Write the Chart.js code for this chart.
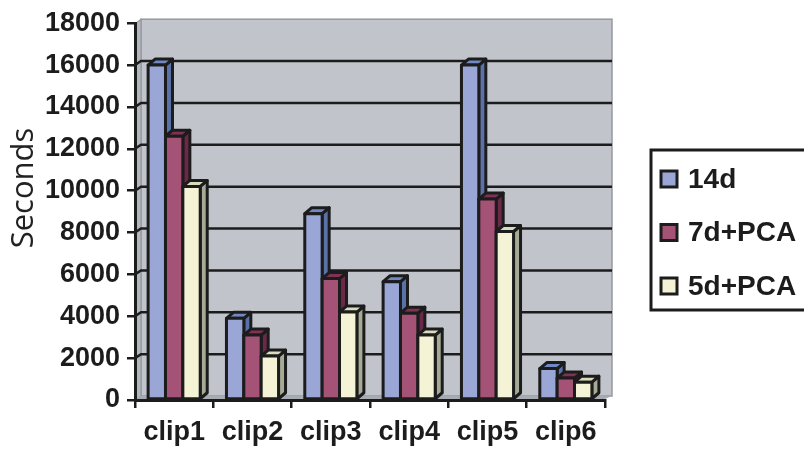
<!DOCTYPE html>
<html>
<head>
<meta charset="utf-8">
<title>Seconds per clip</title>
<script src="https://cdn.jsdelivr.net/npm/chart.js@4.4.1/dist/chart.umd.min.js"></script>
<style>
  html, body { margin: 0; padding: 0; background: #ffffff; }
  #wrap { width: 804px; height: 453px; }
</style>
</head>
<body>
<div id="wrap"><canvas id="c" width="804" height="453"></canvas></div>
<script>
// ---- data ----
const categories = ['clip1', 'clip2', 'clip3', 'clip4', 'clip5', 'clip6'];
const seriesNames = ['14d', '7d+PCA', '5d+PCA'];
const values14d = [16000, 3900, 8900, 5650, 16000, 1500];
const values7dPCA = [12600, 3100, 5800, 4150, 9600, 1050];
const values5dPCA = [10200, 2100, 4200, 3100, 8050, 850];
const yMin = 0;
const yMax = 18000;
const yStep = 2000;
const yTitle = 'Seconds';

// ---- styling ----
const faceColors = [
  { front: '#9aa6d6', side: '#5a72a8', top: '#7288c2' },
  { front: '#a55277', side: '#6c2848', top: '#7f3256' },
  { front: '#f4f3d6', side: '#a6ab96', top: '#d9dbbf' }
];
const ink = '#1c1c1c';
const barDepth = { x: 7, y: -6 };
const wallDepth = { x: 6, y: -4 };
const boldFont = '"Liberation Sans", Arial, sans-serif';

// back wall, side wall, floor and wall gridlines
const wallsPlugin = {
  id: 'walls',
  beforeDraw(chart) {
    const { ctx, chartArea: a, scales } = chart;
    const ys = scales.y;
    const dx = wallDepth.x, dy = wallDepth.y;
    ctx.save();
    // back wall
    ctx.fillStyle = '#c1c4cb';
    ctx.fillRect(a.left + dx, a.top + dy, (a.right + dx + 1) - (a.left + dx), a.bottom - a.top);
    ctx.strokeStyle = '#949ba0';
    ctx.lineWidth = 1.5;
    ctx.strokeRect(a.left + dx, a.top + dy, (a.right + dx + 1) - (a.left + dx), a.bottom - a.top);
    // side wall
    ctx.fillStyle = '#b3b7be';
    ctx.beginPath();
    ctx.moveTo(a.left + 1, a.top);
    ctx.lineTo(a.left + dx, a.top + dy);
    ctx.lineTo(a.left + dx, a.bottom + dy);
    ctx.lineTo(a.left + 1, a.bottom);
    ctx.closePath();
    ctx.fill();
    ctx.strokeStyle = '#949ba0';
    ctx.lineWidth = 1.2;
    ctx.stroke();
    // floor
    ctx.fillStyle = '#a7abb2';
    ctx.beginPath();
    ctx.moveTo(a.left, a.bottom - 1);
    ctx.lineTo(a.left + dx, a.bottom + dy);
    ctx.lineTo(a.right + dx + 1, a.bottom + dy);
    ctx.lineTo(a.right, a.bottom - 1);
    ctx.closePath();
    ctx.fill();
    // gridlines on side and back wall
    ctx.strokeStyle = ink;
    ctx.lineWidth = 2.5;
    for (let v = yMin + yStep; v < yMax; v += yStep) {
      const py = ys.getPixelForValue(v);
      ctx.beginPath();
      ctx.moveTo(a.left, py);
      ctx.lineTo(a.left + dx, py + dy);
      ctx.lineTo(a.right + dx + 1, py + dy);
      ctx.stroke();
    }
    ctx.restore();
  }
};

// extruded bars: side, top and front faces painted left to right
const bars3dPlugin = {
  id: 'bars3d',
  afterDatasetsDraw(chart) {
    const { ctx } = chart;
    const dx = barDepth.x, dy = barDepth.y;
    ctx.save();
    ctx.lineWidth = 3;
    ctx.lineJoin = 'round';
    ctx.strokeStyle = ink;
    for (let i = 0; i < categories.length; i++) {
      for (let d = 0; d < chart.data.datasets.length; d++) {
        const el = chart.getDatasetMeta(d).data[i];
        const p = el.getProps(['x', 'y', 'base', 'width'], true);
        const l = p.x - p.width / 2, r = p.x + p.width / 2;
        const top = p.y, base = p.base;
        const c = faceColors[d];
        // side face
        ctx.beginPath();
        ctx.moveTo(r, top);
        ctx.lineTo(r + dx, top + dy);
        ctx.lineTo(r + dx, base + dy);
        ctx.lineTo(r, base);
        ctx.closePath();
        ctx.fillStyle = c.side;
        ctx.fill();
        ctx.stroke();
        // top face
        ctx.beginPath();
        ctx.moveTo(l, top);
        ctx.lineTo(l + dx, top + dy);
        ctx.lineTo(r + dx, top + dy);
        ctx.lineTo(r, top);
        ctx.closePath();
        ctx.fillStyle = c.top;
        ctx.fill();
        ctx.stroke();
        // front face
        ctx.beginPath();
        ctx.rect(l, top, r - l, base - top);
        ctx.fillStyle = c.front;
        ctx.fill();
        ctx.stroke();
      }
    }
    ctx.restore();
  }
};

// axis title and boxed legend
const annotationsPlugin = {
  id: 'annotations',
  afterDraw(chart) {
    const { ctx } = chart;
    ctx.save();
    // vertical axis title
    ctx.translate(24, 188);
    ctx.rotate(-Math.PI / 2);
    ctx.font = '31px "Open Sans", sans-serif';
    ctx.fillStyle = '#222222';
    ctx.textAlign = 'center';
    ctx.textBaseline = 'middle';
    ctx.fillText(yTitle, 0, 0);
    ctx.restore();

    // legend
    ctx.save();
    ctx.fillStyle = '#ffffff';
    ctx.fillRect(651, 150, 180, 160);
    ctx.strokeStyle = ink;
    ctx.lineWidth = 3;
    ctx.strokeRect(651, 150, 180, 160);
    ctx.font = 'bold 28px ' + boldFont;
    ctx.textBaseline = 'middle';
    ctx.textAlign = 'left';
    chart.data.datasets.forEach((ds, k) => {
      const cy = 179 + k * 53.5;
      ctx.fillStyle = faceColors[k].front;
      ctx.fillRect(661, cy - 8, 16, 16);
      ctx.strokeRect(661, cy - 8, 16, 16);
      ctx.fillStyle = ink;
      ctx.fillText(ds.label, 688, cy + 1);
    });
    ctx.restore();
  }
};

const allValues = [values14d, values7dPCA, values5dPCA];

new Chart(document.getElementById('c'), {
  type: 'bar',
  data: {
    labels: categories,
    datasets: seriesNames.map((name, k) => ({
      label: name,
      data: allValues[k],
      backgroundColor: faceColors[k].front,
      borderWidth: 0
    }))
  },
  options: {
    responsive: false,
    animation: false,
    events: [],
    layout: { padding: { top: 20, right: 199, bottom: 0, left: 0 } },
    datasets: {
      bar: { categoryPercentage: 0.665, barPercentage: 1.0 }
    },
    plugins: {
      legend: { display: false },
      tooltip: { enabled: false },
      title: { display: false }
    },
    scales: {
      x: {
        offset: true,
        grid: {
          offset: true,
          drawOnChartArea: false,
          drawTicks: true,
          tickLength: 8,
          tickColor: ink,
          tickWidth: 2.5,
          lineWidth: 2.5
        },
        border: { display: true, color: ink, width: 3 },
        ticks: {
          color: ink,
          padding: 8,
          font: { family: boldFont, size: 27, weight: 'bold' }
        },
        afterFit(scale) { scale.height = 53; }
      },
      y: {
        min: yMin,
        max: yMax,
        grid: {
          drawOnChartArea: false,
          drawTicks: true,
          tickLength: 8,
          tickColor: ink,
          tickWidth: 2.5,
          lineWidth: 2.5
        },
        border: { display: true, color: ink, width: 3 },
        ticks: {
          stepSize: yStep,
          color: ink,
          padding: 7,
          font: { family: boldFont, size: 27, weight: 'bold' },
          callback: (v) => String(v)
        },
        afterFit(scale) { scale.width = 135; }
      }
    }
  },
  plugins: [wallsPlugin, bars3dPlugin, annotationsPlugin]
});
</script>
</body>
</html>
